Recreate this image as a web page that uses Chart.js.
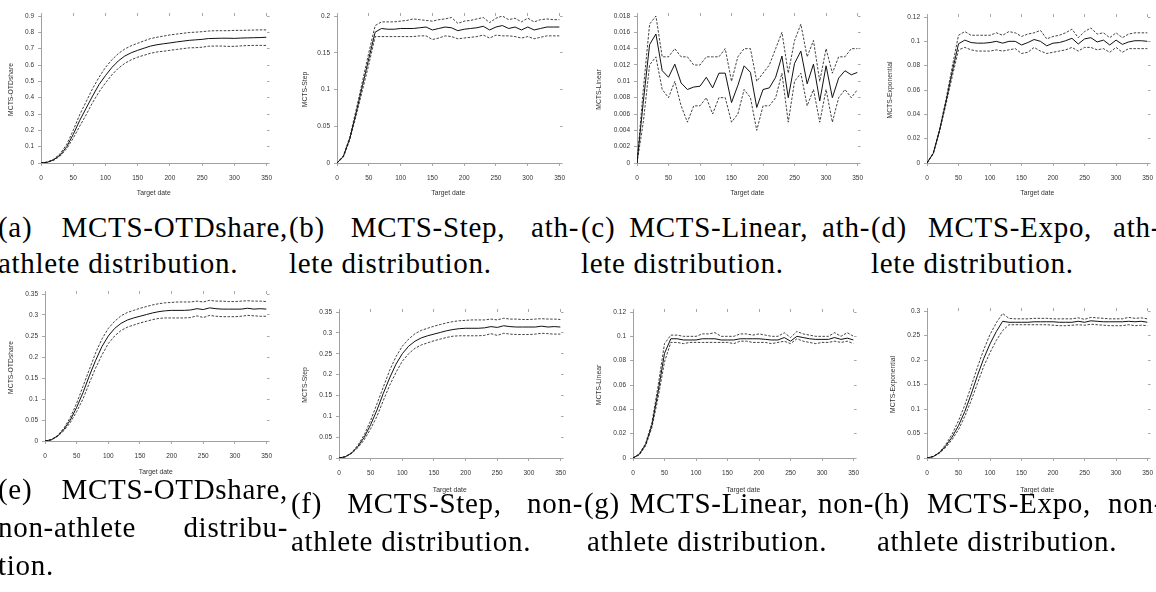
<!DOCTYPE html>
<html>
<head>
<meta charset="utf-8">
<script src="https://cdn.jsdelivr.net/npm/chart.js@4.4.1/dist/chart.umd.min.js"></script>
<style>
  html, body { margin: 0; padding: 0; background: #fff; }
  body { width: 1156px; height: 592px; position: relative; overflow: hidden; }
  canvas { position: absolute; }
  .cap {
    position: absolute;
    font-family: "Liberation Serif", "Times New Roman", serif;
    font-size: 29px;
    line-height: 29px;
    letter-spacing: 0.7px;
    color: #000;
    white-space: nowrap;
  }
  .cap.just { white-space: normal; text-align: justify; text-align-last: justify; }
</style>
</head>
<body>
<script>
// x values (days), shared by every panel
const targetDate = [0, 10, 20, 30, 40, 50, 60, 70, 80, 90, 100, 110, 120, 130, 140, 150, 160, 170,
  180, 190, 200, 210, 220, 230, 240, 250, 260, 270, 280, 290, 300, 310, 320, 330, 340, 350];

// (a) MCTS-OTDshare, athlete
const otdAthMean = [0, 0.005, 0.02, 0.05, 0.1, 0.175, 0.26, 0.335, 0.41, 0.48, 0.535, 0.585, 0.625, 0.655, 0.675, 0.69, 0.703, 0.716,
  0.724, 0.73, 0.735, 0.741, 0.746, 0.751, 0.754, 0.757, 0.762, 0.763, 0.764, 0.764, 0.763, 0.765, 0.766, 0.767, 0.768, 0.77];
const otdAthUpper = [0, 0.006, 0.024, 0.058, 0.115, 0.2, 0.295, 0.375, 0.455, 0.525, 0.585, 0.632, 0.67, 0.698, 0.718, 0.733, 0.748, 0.762,
  0.77, 0.777, 0.784, 0.789, 0.794, 0.799, 0.801, 0.804, 0.808, 0.81, 0.81, 0.81, 0.812, 0.812, 0.813, 0.814, 0.815, 0.815];
const otdAthLower = [0, 0.004, 0.017, 0.043, 0.088, 0.152, 0.225, 0.295, 0.37, 0.435, 0.49, 0.54, 0.58, 0.61, 0.632, 0.648, 0.66, 0.672,
  0.68, 0.684, 0.69, 0.695, 0.7, 0.705, 0.706, 0.709, 0.715, 0.716, 0.716, 0.714, 0.714, 0.717, 0.719, 0.72, 0.72, 0.72];

// (b) MCTS-Step, athlete
const stepAthMean = [0, 0.009, 0.033, 0.068, 0.105, 0.142, 0.178, 0.183, 0.182, 0.182, 0.183, 0.183, 0.183, 0.184, 0.185, 0.181, 0.183, 0.185,
  0.184, 0.18, 0.182, 0.183, 0.184, 0.186, 0.181, 0.185, 0.187, 0.183, 0.185, 0.181, 0.185, 0.181, 0.183, 0.185, 0.185, 0.185];
const stepAthUpper = [0, 0.01, 0.035, 0.072, 0.111, 0.15, 0.187, 0.192, 0.192, 0.192, 0.193, 0.194, 0.196, 0.195, 0.194, 0.193, 0.195, 0.196,
  0.198, 0.19, 0.193, 0.194, 0.196, 0.198, 0.191, 0.197, 0.2, 0.195, 0.197, 0.192, 0.197, 0.192, 0.195, 0.196, 0.195, 0.195];
const stepAthLower = [0, 0.008, 0.031, 0.064, 0.099, 0.134, 0.172, 0.172, 0.172, 0.172, 0.172, 0.172, 0.172, 0.173, 0.173, 0.168, 0.17, 0.173,
  0.172, 0.169, 0.17, 0.171, 0.172, 0.174, 0.17, 0.174, 0.173, 0.173, 0.172, 0.17, 0.172, 0.169, 0.171, 0.173, 0.173, 0.173];

// (c) MCTS-Linear, athlete
const linAthMean = [0, 0.0075, 0.0145, 0.0158, 0.0113, 0.0105, 0.0121, 0.0098, 0.009, 0.0093, 0.0094, 0.0105, 0.0092, 0.011, 0.011, 0.0074, 0.0095, 0.0119,
  0.0111, 0.0068, 0.009, 0.0092, 0.0105, 0.0131, 0.008, 0.0122, 0.0137, 0.0097, 0.0121, 0.0076, 0.0119, 0.008, 0.0104, 0.0113, 0.0108, 0.0111];
const linAthUpper = [0, 0.009, 0.017, 0.018, 0.013, 0.013, 0.014, 0.013, 0.013, 0.012, 0.012, 0.013, 0.013, 0.013, 0.014, 0.01, 0.013, 0.014,
  0.014, 0.01, 0.011, 0.012, 0.014, 0.016, 0.011, 0.015, 0.017, 0.013, 0.015, 0.01, 0.014, 0.011, 0.013, 0.013, 0.014, 0.014];
const linAthLower = [0, 0.005, 0.012, 0.013, 0.009, 0.008, 0.01, 0.007, 0.005, 0.007, 0.007, 0.008, 0.006, 0.008, 0.008, 0.005, 0.006, 0.009,
  0.008, 0.004, 0.007, 0.007, 0.008, 0.011, 0.005, 0.01, 0.011, 0.007, 0.009, 0.005, 0.009, 0.005, 0.008, 0.009, 0.008, 0.009];

// (d) MCTS-Expo, athlete
const expAthMean = [0, 0.008, 0.027, 0.05, 0.075, 0.098, 0.101, 0.099, 0.0985, 0.0985, 0.099, 0.1, 0.0985, 0.1, 0.1, 0.097, 0.099, 0.1015,
  0.1, 0.0963, 0.0985, 0.099, 0.1005, 0.1025, 0.0978, 0.102, 0.103, 0.0995, 0.101, 0.097, 0.101, 0.0975, 0.0995, 0.1005, 0.1005, 0.1];
const expAthUpper = [0, 0.0085, 0.028, 0.052, 0.079, 0.105, 0.108, 0.105, 0.105, 0.105, 0.105, 0.107, 0.105, 0.108, 0.107, 0.104, 0.106, 0.107,
  0.109, 0.102, 0.104, 0.105, 0.107, 0.11, 0.103, 0.108, 0.111, 0.106, 0.107, 0.103, 0.107, 0.103, 0.106, 0.107, 0.107, 0.107];
const expAthLower = [0, 0.0075, 0.026, 0.048, 0.071, 0.093, 0.095, 0.093, 0.092, 0.092, 0.092, 0.093, 0.092, 0.093, 0.094, 0.09, 0.091, 0.095,
  0.092, 0.09, 0.091, 0.092, 0.093, 0.095, 0.092, 0.095, 0.095, 0.093, 0.094, 0.091, 0.095, 0.091, 0.094, 0.094, 0.094, 0.094];

// (e) MCTS-OTDshare, non-athlete
const otdNonMean = [0, 0.003, 0.012, 0.028, 0.05, 0.08, 0.115, 0.155, 0.192, 0.225, 0.25, 0.268, 0.28, 0.288, 0.293, 0.297, 0.301, 0.305,
  0.308, 0.31, 0.311, 0.311, 0.311, 0.312, 0.315, 0.313, 0.317, 0.315, 0.314, 0.314, 0.314, 0.314, 0.316, 0.314, 0.315, 0.314];
const otdNonUpper = [0, 0.0035, 0.013, 0.031, 0.056, 0.09, 0.13, 0.17, 0.21, 0.243, 0.268, 0.285, 0.298, 0.306, 0.311, 0.316, 0.32, 0.324,
  0.327, 0.329, 0.33, 0.331, 0.331, 0.331, 0.333, 0.331, 0.335, 0.333, 0.333, 0.332, 0.332, 0.333, 0.334, 0.333, 0.333, 0.332];
const otdNonLower = [0, 0.0025, 0.011, 0.025, 0.044, 0.07, 0.1, 0.138, 0.174, 0.205, 0.232, 0.25, 0.263, 0.271, 0.276, 0.281, 0.285, 0.289,
  0.292, 0.293, 0.293, 0.293, 0.293, 0.294, 0.298, 0.294, 0.299, 0.297, 0.296, 0.296, 0.296, 0.297, 0.299, 0.298, 0.297, 0.297];

// (f) MCTS-Step, non-athlete
const stepNonMean = [0, 0.003, 0.012, 0.028, 0.05, 0.08, 0.115, 0.155, 0.192, 0.225, 0.25, 0.268, 0.28, 0.288, 0.293, 0.297, 0.301, 0.305,
  0.308, 0.31, 0.311, 0.311, 0.311, 0.312, 0.315, 0.313, 0.317, 0.315, 0.314, 0.314, 0.314, 0.314, 0.316, 0.314, 0.315, 0.314];
const stepNonUpper = [0, 0.0035, 0.013, 0.031, 0.056, 0.09, 0.13, 0.17, 0.21, 0.243, 0.268, 0.285, 0.298, 0.306, 0.311, 0.316, 0.32, 0.324,
  0.327, 0.329, 0.33, 0.331, 0.331, 0.331, 0.333, 0.331, 0.335, 0.333, 0.333, 0.332, 0.332, 0.333, 0.334, 0.333, 0.333, 0.332];
const stepNonLower = [0, 0.0025, 0.011, 0.025, 0.044, 0.07, 0.1, 0.138, 0.174, 0.205, 0.232, 0.25, 0.263, 0.271, 0.276, 0.281, 0.285, 0.289,
  0.292, 0.293, 0.293, 0.293, 0.293, 0.294, 0.298, 0.294, 0.299, 0.297, 0.296, 0.296, 0.296, 0.297, 0.299, 0.298, 0.297, 0.297];

// (g) MCTS-Linear, non-athlete
const linNonMean = [0, 0.003, 0.011, 0.027, 0.055, 0.086, 0.098, 0.098, 0.097, 0.097, 0.097, 0.098, 0.098, 0.098, 0.097, 0.097, 0.097, 0.098,
  0.098, 0.098, 0.098, 0.0975, 0.097, 0.097, 0.099, 0.096, 0.1, 0.099, 0.098, 0.0975, 0.0975, 0.0975, 0.099, 0.0975, 0.0985, 0.097];
const linNonUpper = [0, 0.0035, 0.012, 0.029, 0.06, 0.094, 0.101, 0.101, 0.1, 0.1, 0.1, 0.102, 0.102, 0.103, 0.1, 0.1, 0.1, 0.102,
  0.102, 0.101, 0.102, 0.101, 0.1, 0.1, 0.103, 0.099, 0.104, 0.102, 0.101, 0.1, 0.1, 0.1, 0.103, 0.1, 0.103, 0.1];
const linNonLower = [0, 0.0025, 0.01, 0.025, 0.05, 0.079, 0.095, 0.095, 0.094, 0.095, 0.095, 0.095, 0.095, 0.095, 0.095, 0.095, 0.094, 0.096,
  0.096, 0.095, 0.095, 0.095, 0.094, 0.095, 0.096, 0.094, 0.098, 0.096, 0.095, 0.094, 0.095, 0.095, 0.096, 0.095, 0.096, 0.094];

// (h) MCTS-Expo, non-athlete
const expNonMean = [0, 0.003, 0.011, 0.025, 0.043, 0.066, 0.095, 0.13, 0.168, 0.203, 0.233, 0.258, 0.279, 0.277, 0.277, 0.277, 0.277, 0.278,
  0.278, 0.278, 0.278, 0.277, 0.277, 0.277, 0.279, 0.277, 0.28, 0.279, 0.278, 0.278, 0.278, 0.278, 0.279, 0.278, 0.279, 0.277];
const expNonUpper = [0, 0.0035, 0.012, 0.028, 0.049, 0.076, 0.108, 0.146, 0.185, 0.221, 0.252, 0.276, 0.295, 0.285, 0.284, 0.284, 0.284, 0.285,
  0.285, 0.285, 0.284, 0.284, 0.284, 0.284, 0.286, 0.283, 0.287, 0.286, 0.285, 0.284, 0.284, 0.284, 0.287, 0.285, 0.286, 0.284];
const expNonLower = [0, 0.0025, 0.01, 0.022, 0.038, 0.058, 0.085, 0.117, 0.152, 0.187, 0.215, 0.24, 0.26, 0.272, 0.272, 0.272, 0.272, 0.272,
  0.272, 0.272, 0.271, 0.27, 0.27, 0.271, 0.272, 0.271, 0.273, 0.272, 0.271, 0.27, 0.27, 0.27, 0.272, 0.27, 0.271, 0.27];

const SANS = '"Liberation Sans", Arial, Helvetica, sans-serif';
const TICK_COLOR = '#a8a8a8';
const AXIS_COLOR = '#a0a0a0';
const LABEL_COLOR = '#333';

// box = plot area [left, top, right, bottom] on the page
const panels = [
  { yTitle: 'MCTS-OTDshare', yMax: 0.9, yStep: 0.1, mean: otdAthMean, upper: otdAthUpper, lower: otdAthLower,
    box: [41, 16, 268, 163], yTitleX: 11, xTitleY: 193 },
  { yTitle: 'MCTS-Step', yMax: 0.2, yStep: 0.05, mean: stepAthMean, upper: stepAthUpper, lower: stepAthLower,
    box: [337, 16, 561, 163], yTitleX: 305, xTitleY: 193 },
  { yTitle: 'MCTS-Linear', yMax: 0.018, yStep: 0.002, mean: linAthMean, upper: linAthUpper, lower: linAthLower,
    box: [637, 16, 859, 163], yTitleX: 599, xTitleY: 193 },
  { yTitle: 'MCTS-Exponential', yMax: 0.12, yStep: 0.02, mean: expAthMean, upper: expAthUpper, lower: expAthLower,
    box: [927, 17, 1149, 163], yTitleX: 890, xTitleY: 193 },
  { yTitle: 'MCTS-OTDshare', yMax: 0.35, yStep: 0.05, mean: otdNonMean, upper: otdNonUpper, lower: otdNonLower,
    box: [45, 294, 268, 441], yTitleX: 11, xTitleY: 472 },
  { yTitle: 'MCTS-Step', yMax: 0.35, yStep: 0.05, mean: stepNonMean, upper: stepNonUpper, lower: stepNonLower,
    box: [339, 312, 562, 458], yTitleX: 305, xTitleY: 490 },
  { yTitle: 'MCTS-Linear', yMax: 0.12, yStep: 0.02, mean: linNonMean, upper: linNonUpper, lower: linNonLower,
    box: [633, 312, 855, 458], yTitleX: 599, xTitleY: 490 },
  { yTitle: 'MCTS-Exponential', yMax: 0.3, yStep: 0.05, mean: expNonMean, upper: expNonUpper, lower: expNonLower,
    box: [927, 311, 1149, 458], yTitleX: 893, xTitleY: 490 },
];

// caption lines: left x, baseline y, justified width (if any)
const captions = [
  { x: -2, y: 237, w: 290, text: '(a) MCTS-OTDshare,' },
  { x: -2, y: 273, text: 'athlete distribution.' },
  { x: 289, y: 237, w: 290, text: '(b) MCTS-Step, ath-' },
  { x: 289, y: 273, text: 'lete distribution.' },
  { x: 581, y: 237, w: 289, text: '(c) MCTS-Linear, ath-' },
  { x: 581, y: 273, text: 'lete distribution.' },
  { x: 871, y: 237, w: 290, text: '(d) MCTS-Expo, ath-' },
  { x: 871, y: 273, text: 'lete distribution.' },
  { x: -2, y: 499, w: 290, text: '(e) MCTS-OTDshare,' },
  { x: -2, y: 537, w: 290, text: 'non-athlete distribu-' },
  { x: -2, y: 575, text: 'tion.' },
  { x: 291, y: 513, w: 292, text: '(f) MCTS-Step, non-' },
  { x: 291, y: 551, text: 'athlete distribution.' },
  { x: 584, y: 513, w: 290, text: '(g) MCTS-Linear, non-' },
  { x: 587, y: 551, text: 'athlete distribution.' },
  { x: 874, y: 513, w: 290, text: '(h) MCTS-Expo, non-' },
  { x: 877, y: 551, text: 'athlete distribution.' },
];

function tickGrid() {
  return { drawOnChartArea: false, drawTicks: true, tickLength: 3, color: TICK_COLOR, tickColor: TICK_COLOR, lineWidth: 1 };
}

function makePanel(p) {
  const [l, t, r, b] = p.box;
  const cl = p.yTitleX - 10;
  const ct = t - 10;
  const cw = r + 12 - cl;
  const ch = p.xTitleY + 8 - ct;
  const wl = l - cl;
  const hb = p.xTitleY + 8 - b;

  const canvas = document.createElement('canvas');
  canvas.width = cw;
  canvas.height = ch;
  canvas.style.left = cl + 'px';
  canvas.style.top = ct + 'px';
  canvas.style.width = cw + 'px';
  canvas.style.height = ch + 'px';
  document.body.appendChild(canvas);

  const pts = arr => targetDate.map((x, i) => ({ x: x, y: arr[i] }));
  const tickFont = { family: SANS, size: 6.5 };
  const titleFont = { family: SANS, size: 6.8 };

  new Chart(canvas, {
    type: 'line',
    data: {
      datasets: [
        { data: pts(p.upper), borderColor: '#111', borderWidth: 0.8, borderDash: [2.5, 1.5] },
        { data: pts(p.lower), borderColor: '#111', borderWidth: 0.8, borderDash: [2.5, 1.5] },
        { data: pts(p.mean), borderColor: '#111', borderWidth: 1 },
      ]
    },
    options: {
      responsive: false,
      animation: false,
      events: [],
      layout: { padding: 0 },
      elements: { point: { radius: 0 }, line: { tension: 0 } },
      plugins: { legend: { display: false }, tooltip: { enabled: false } },
      scales: {
        x: {
          type: 'linear', position: 'bottom', min: 0, max: 350,
          ticks: { stepSize: 50, font: tickFont, color: LABEL_COLOR, padding: 8, maxRotation: 0, autoSkip: false },
          grid: tickGrid(),
          border: { display: true, color: AXIS_COLOR, width: 1 },
          title: { display: true, text: 'Target date', font: titleFont, color: LABEL_COLOR, padding: { top: 0, bottom: 3.9 } },
          afterFit: s => { s.height = hb; }
        },
        xTop: {
          type: 'linear', position: 'top', min: 0, max: 350,
          ticks: { display: false, stepSize: 50 },
          grid: tickGrid(),
          border: { display: false },
          afterFit: s => { s.height = 10; }
        },
        y: {
          type: 'linear', position: 'left', min: 0, max: p.yMax,
          ticks: { stepSize: p.yStep, font: tickFont, color: LABEL_COLOR, padding: 4,
                   callback: v => String(+v.toFixed(4)) },
          grid: tickGrid(),
          border: { display: true, color: AXIS_COLOR, width: 1 },
          title: { display: true, text: p.yTitle, font: titleFont, color: LABEL_COLOR, padding: { top: 5.9, bottom: 0 } },
          afterFit: s => { s.width = wl; }
        },
        yRight: {
          type: 'linear', position: 'right', min: 0, max: p.yMax,
          ticks: { display: false, stepSize: p.yStep },
          grid: tickGrid(),
          border: { display: false },
          afterFit: s => { s.width = 12; }
        }
      }
    }
  });
}

panels.forEach(makePanel);

captions.forEach(c => {
  const d = document.createElement('div');
  d.className = 'cap' + (c.w ? ' just' : '');
  d.textContent = c.text;
  d.style.left = c.x + 'px';
  d.style.top = (c.y - 24.3) + 'px';
  if (c.w) d.style.width = c.w + 'px';
  document.body.appendChild(d);
});
</script>
</body>
</html>
